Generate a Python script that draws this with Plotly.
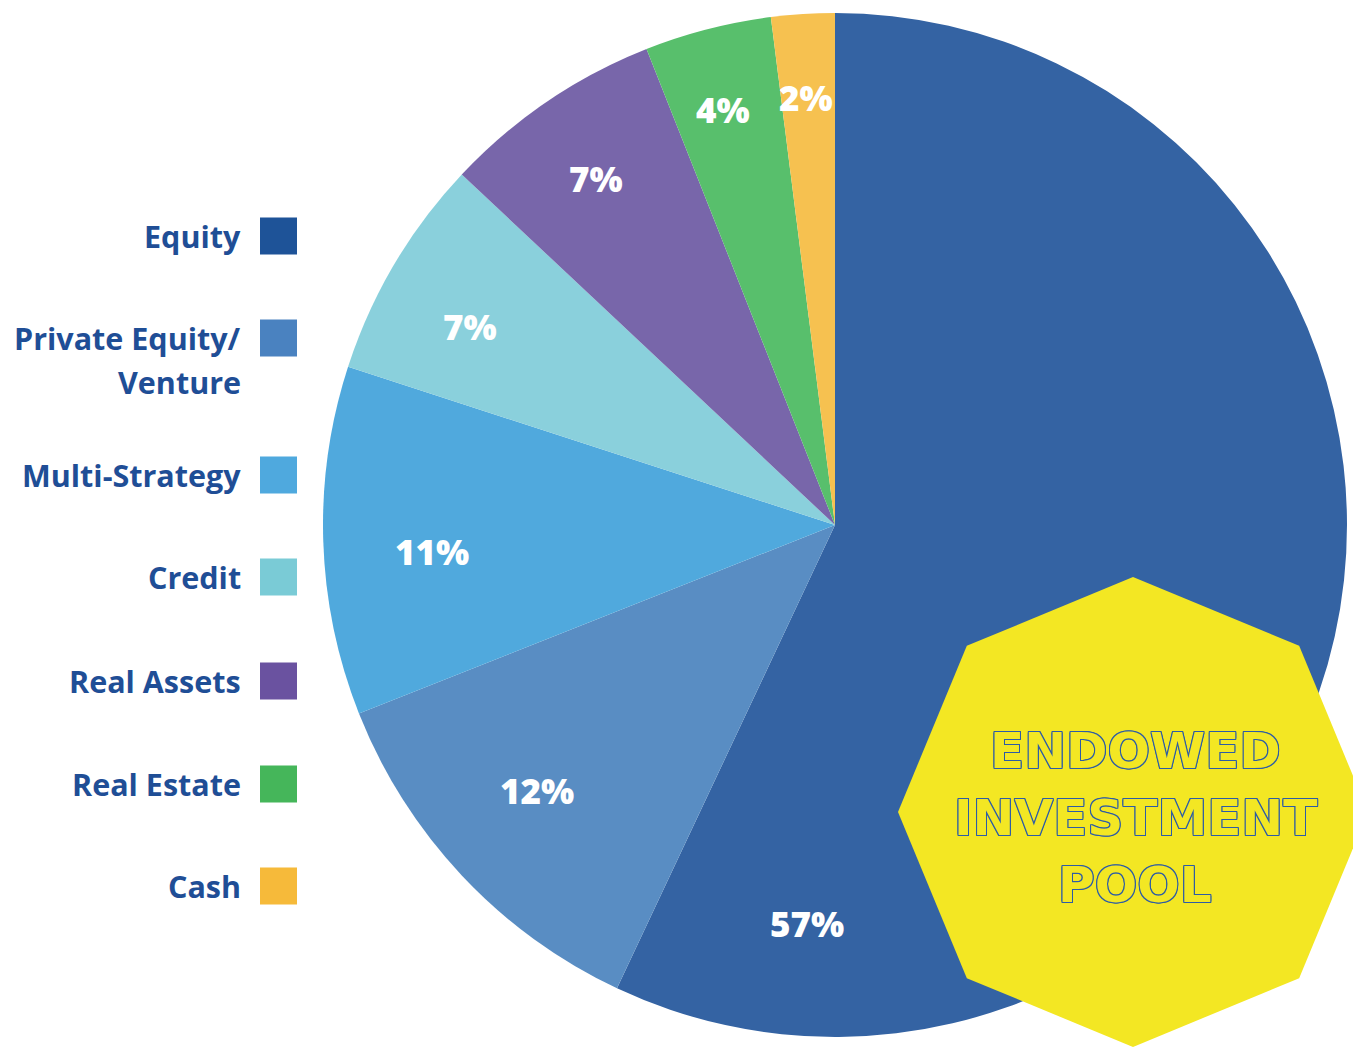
import math
import plotly.graph_objects as go

categories = ["Equity", "Private Equity/ Venture", "Multi-Strategy", "Credit",
              "Real Assets", "Real Estate", "Cash"]
values = [57, 12, 11, 7, 7, 4, 2]
pie_colors = ["#3463A3", "#598DC3", "#50A9DD", "#8AD0DC", "#7866AA", "#58BF6C", "#F6C150"]
legend_colors = ["#1E5398", "#4A82C0", "#4FA9DE", "#7ACBD6", "#6A52A0", "#45B65A", "#F6BA3A"]
title_lines = ["ENDOWED", "INVESTMENT", "POOL"]

# page body has an 8px margin; work in screen pixels and convert
OFF = 8
W, H = 1361 - OFF, 1048 - OFF
CX, CY, R = 835, 525, 512

def px(x):
    return (x - OFF) / W

def py(y):
    return 1 - (y - OFF) / H

fig = go.Figure()
fig.add_trace(go.Pie(
    labels=categories, values=values, sort=False, direction="clockwise", rotation=0,
    marker=dict(colors=pie_colors, line=dict(width=0)),
    textinfo="none", hoverinfo="label+percent", showlegend=False,
    domain=dict(x=[px(CX - R), px(CX + R)], y=[py(CY + R), py(CY - R)]),
))

annotations = []
shapes = []

# slice labels (percent), placed along each slice (style: radius fraction, angle nudge)
total = sum(values)
label_r = [0.781, 0.78, 0.789, 0.811, 0.821, 0.84, 0.836]
label_shift_deg = [81.4, 1.45, -2.0, -2.1, -0.4, -0.7, -0.3]
cum = 0
for i, v in enumerate(values):
    mid_deg = (cum + v / 2) / total * 360
    cum += v
    ang = math.radians(mid_deg + label_shift_deg[i])
    x = CX + label_r[i] * R * math.sin(ang)
    y = CY - label_r[i] * R * math.cos(ang)
    annotations.append(dict(
        x=px(x), y=py(y), xref="paper", yref="paper", showarrow=False,
        text=f"{round(v / total * 100)}%",
        font=dict(family="Open Sans, sans-serif", size=35, color="white", weight=800),
        xanchor="center", yanchor="middle"))

# manual legend
rows = [236, 338, 475, 577, 681, 784, 886]
for i, cat in enumerate(categories):
    yc = rows[i]
    shapes.append(dict(type="rect", xref="paper", yref="paper",
                       x0=px(260), x1=px(297), y0=py(yc + 18.5), y1=py(yc - 18.5),
                       fillcolor=legend_colors[i], line=dict(width=0), layer="above"))
    if "/ " in cat:
        lines = [cat.split("/ ")[0] + "/", cat.split("/ ")[1]]
    else:
        lines = [cat]
    for j, ln in enumerate(lines):
        annotations.append(dict(
            x=px(243), y=py(yc + j * 44), xref="paper", yref="paper", showarrow=False,
            text=f"<b>{ln}</b>", xanchor="right", yanchor="middle",
            font=dict(family="Open Sans, sans-serif", size=30.5, color="#1F4E96")))

# octagon badge
OX, OY, OR = 1133, 812, 235
pts = []
for k in range(8):
    a = math.pi / 2 + k * math.pi / 4
    pts.append((OX + OR * math.cos(a), OY - OR * math.sin(a)))
path = "M " + " L ".join(f"{px(x):.5f},{py(y):.5f}" for x, y in pts) + " Z"
shapes.append(dict(type="path", path=path, xref="paper", yref="paper",
                   fillcolor="#F3E723", line=dict(width=0), layer="above"))

oc = "#2D5CA6"
outline = ", ".join(f"{dx}px {dy}px 0 {oc}" for dx, dy in
                    [(-1, -1), (1, -1), (-1, 1), (1, 1), (0, 1), (0, -1), (1, 0), (-1, 0)])
for j, ln in enumerate(title_lines):
    annotations.append(dict(
        x=px(1135), y=py(751 + j * 67), xref="paper", yref="paper", showarrow=False,
        text=ln, xanchor="center", yanchor="middle",
        font=dict(family="DejaVu Sans, sans-serif", size=50, color="#F3E723",
                  weight=700, shadow=outline)))

fig.update_layout(
    width=W, height=H, margin=dict(l=0, r=0, t=0, b=0),
    paper_bgcolor="white", plot_bgcolor="white",
    shapes=shapes, annotations=annotations,
)
fig.write_html("out.html")
